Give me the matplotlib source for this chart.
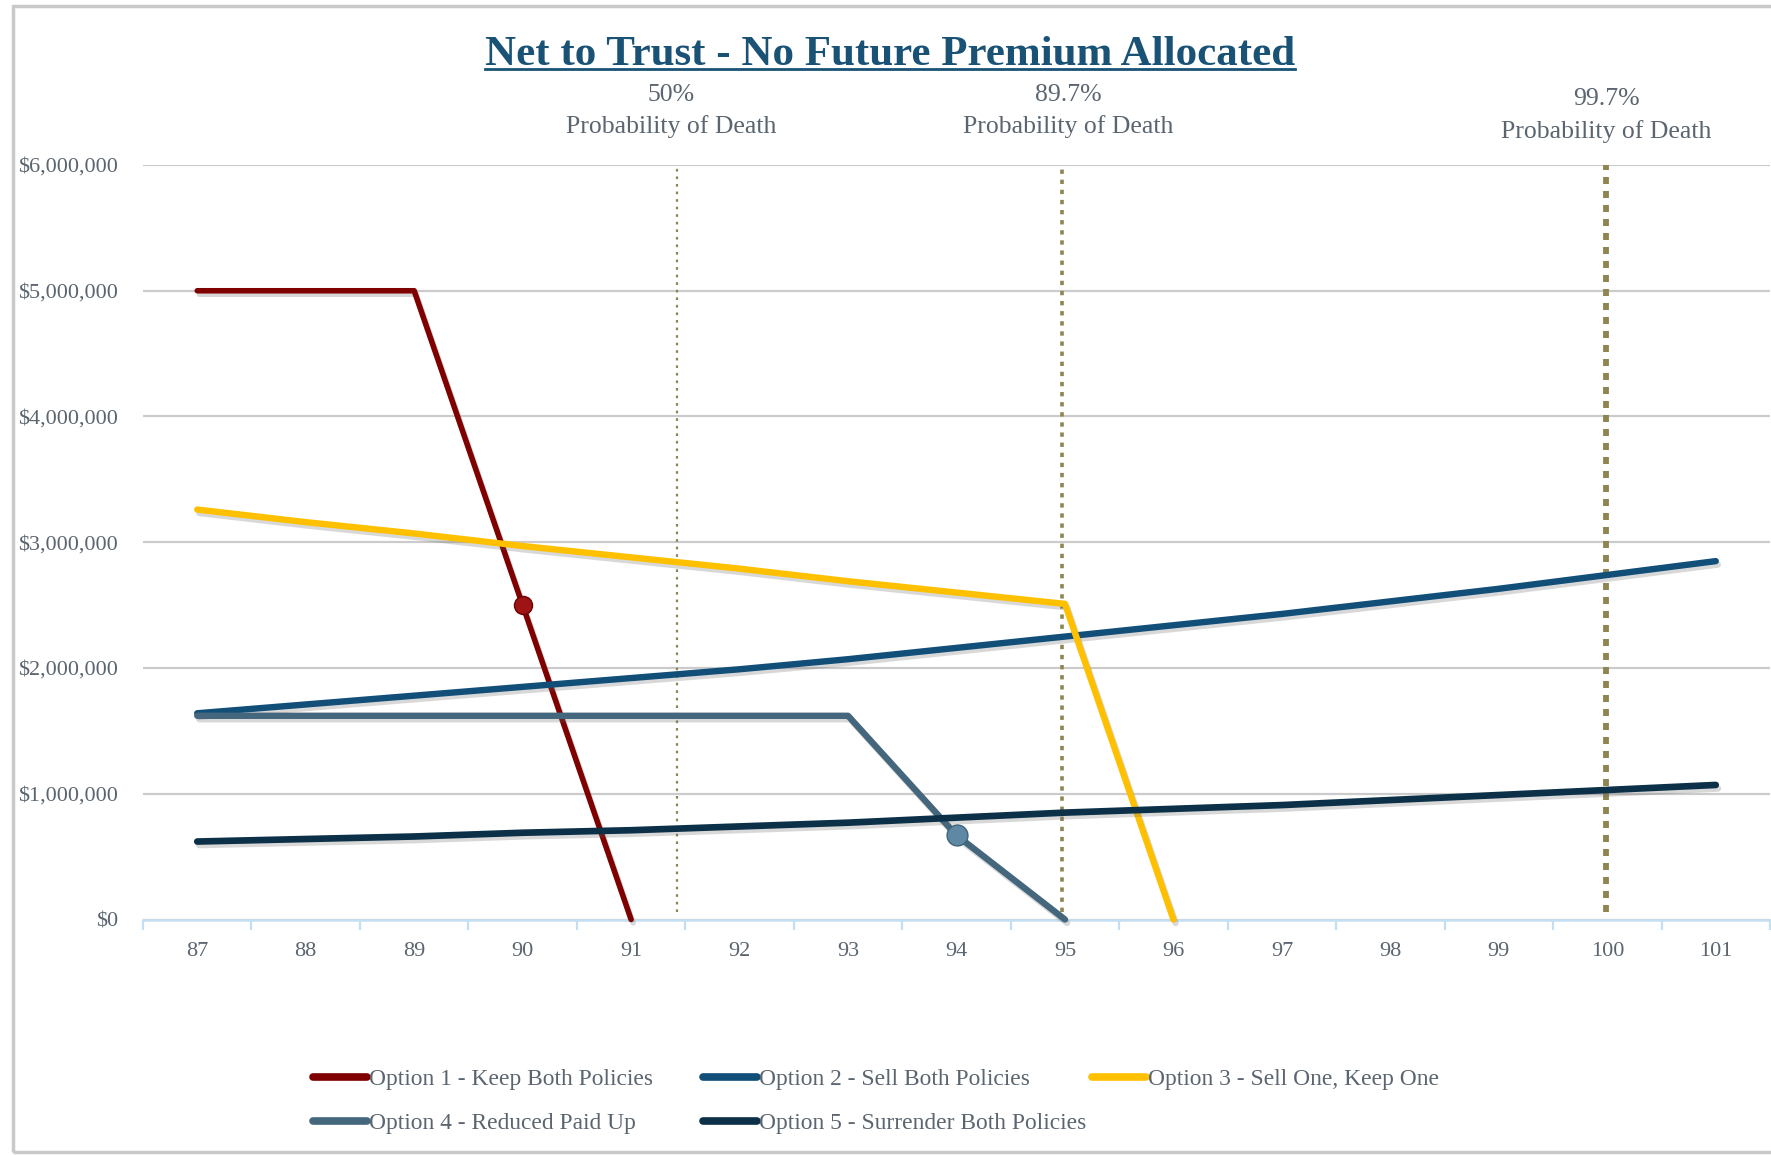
import numpy as np
import matplotlib
matplotlib.use("Agg")
import matplotlib.pyplot as plt
import matplotlib.patheffects as pe
from matplotlib.lines import Line2D
from matplotlib.patches import Rectangle
from matplotlib.ticker import FuncFormatter, FixedLocator

nan = np.nan
ages = [87, 88, 89, 90, 91, 92, 93, 94, 95, 96, 97, 98, 99, 100, 101]
opt1 = [5.00, 5.00, 5.00, 2.50, 0.00, nan, nan, nan, nan, nan, nan, nan, nan, nan, nan]
opt2 = [1.64, 1.71, 1.78, 1.85, 1.92, 1.99, 2.07, 2.16, 2.25, 2.34, 2.43, 2.53, 2.63, 2.74, 2.85]
opt3 = [3.26, 3.16, 3.07, 2.97, 2.88, 2.79, 2.69, 2.60, 2.51, 0.00, nan, nan, nan, nan, nan]
opt4 = [1.62, 1.62, 1.62, 1.62, 1.62, 1.62, 1.62, 0.67, 0.00, nan, nan, nan, nan, nan, nan]
opt5 = [0.62, 0.64, 0.66, 0.69, 0.71, 0.74, 0.77, 0.81, 0.85, 0.88, 0.91, 0.95, 0.99, 1.03, 1.07]
labels = ["Option 1 - Keep Both Policies", "Option 2 - Sell Both Policies",
          "Option 3 - Sell One, Keep One", "Option 4 - Reduced Paid Up",
          "Option 5 - Surrender Both Policies"]
colors = ["#7F0000", "#114E78", "#FFC000", "#44677E", "#0B3048"]
prob_x = [91.42, 94.97, 99.99]
prob_labels = ["50%", "89.7%", "99.7%"]
title = "Net to Trust - No Future Premium Allocated"

plt.rcParams['font.family'] = ['Liberation Serif', 'DejaVu Serif']
TXT = "#5A6570"

fig = plt.figure(figsize=(17.71, 11.55), dpi=100)
W, H = 1771, 1155
# outer chart frame
fig.patches.append(Rectangle((13 / W, 3 / H), 1.2, (1152 - 6) / H, transform=fig.transFigure,
                             facecolor="none", edgecolor="#C9C9C9", linewidth=2.5, zorder=-1))

ax = fig.add_axes([143 / W, 1 - 919.5 / H, (1770 - 143) / W, (919.5 - 165) / H])
ax.set_facecolor("none")
ax.set_xlim(86.5, 101.5)
ax.set_ylim(0, 6e6)

for s in ["top", "right", "left"]:
    ax.spines[s].set_visible(False)
ax.spines["bottom"].set_color("#C5DFF2")
ax.spines["bottom"].set_linewidth(1.8)

ax.set_yticks(np.arange(0, 6.01e6, 1e6))
ax.yaxis.set_major_formatter(FuncFormatter(lambda v, p: "${:,.0f}".format(v)))
ax.tick_params(axis="y", length=0, pad=18, labelsize=16, labelcolor=TXT)
ax.grid(axis="y", color="#CBCBCB", linewidth=1.6, zorder=1)
ax.set_axisbelow(True)

ax.set_xticks(ages)
ax.set_xticklabels([str(a) for a in ages])
ax.xaxis.set_minor_locator(FixedLocator(np.arange(86.5, 101.6, 1.0)))
ax.tick_params(axis="x", which="major", length=0, pad=16, labelsize=16, labelcolor=TXT)
ax.tick_params(axis="x", which="minor", length=7, width=1.6, color="#C5DFF2", direction="out")

# probability of death lines
lstyles = [dict(lw=1.6, ls=(0, (1.2, 2.2))), dict(lw=2.6, ls=(0, (1.2, 1.6))), dict(lw=4.2, ls=(0, (1.2, 1.2)))]
for xv, st in zip(prob_x, lstyles):
    ax.vlines(xv, 0.06e6, 6e6, colors="#8E8553", linewidth=st["lw"], linestyles=[st["ls"]], zorder=2)

text_dx = [-0.05, 0.06, 0.0]
ytxt = [1.0715, 1.0715, 1.0655]
for xv, dx, lab, yy in zip(prob_x, text_dx, prob_labels, ytxt):
    ax.text(xv + dx, yy, lab + "\nProbability of Death", transform=ax.get_xaxis_transform(),
            ha="center", va="center", multialignment="center", fontsize=18.5, color=TXT,
            linespacing=1.55)

series = [opt1, opt2, opt3, opt4, opt5]
widths = [4.0, 4.6, 4.6, 4.6, 4.8]
shadow = [pe.SimpleLineShadow(offset=(1.5, -2.5), shadow_color="#666666", alpha=0.25), pe.Normal()]
handles = []
for vals, c, lw, lab in zip(series, colors, widths, labels):
    yv = np.array(vals) * 1e6
    ln, = ax.plot(ages, yv, color=c, linewidth=lw, solid_capstyle="round",
                  solid_joinstyle="round", label=lab, zorder=4, path_effects=shadow, clip_on=False)
    handles.append(ln)

# markers
ax.plot([ages[3]], [opt1[3] * 1e6], marker="o", markersize=13, color="#9E1414",
        markeredgecolor="#6E0000", markeredgewidth=1, zorder=6, linestyle="none")
ax.plot([ages[7]], [opt4[7] * 1e6], marker="o", markersize=15, color="#5E88A3",
        markeredgecolor="#3F6379", markeredgewidth=1, zorder=6, linestyle="none")

# legend: three columns with equal spacing, row-major order
col_x = [313, 703, 1092]
cols = [[0, 3], [1, 4], [2]]
for cx, idxs in zip(col_x, cols):
    hs = [Line2D([0], [0], color=colors[i], linewidth=5.5, solid_capstyle="round") for i in idxs]
    lg = fig.legend(hs, [labels[i] for i in idxs], loc="upper left",
                    bbox_to_anchor=(cx / W, 1 - 1069 / H), frameon=False, fontsize=16.9,
                    handlelength=2.3, handletextpad=0.1, labelspacing=0.95, borderpad=0,
                    borderaxespad=0)
    for t in lg.get_texts():
        t.set_color(TXT)

# title with underline
tt = fig.text(890 / W, 1 - 55 / H, title, ha="center", va="center", fontsize=31,
              fontweight="bold", color="#1A5276")
fig.canvas.draw()
bb = tt.get_window_extent()
uy = 1 - 69 / H
fig.add_artist(Line2D([bb.x0 / W, bb.x1 / W], [uy, uy], transform=fig.transFigure,
                      color="#1A5276", linewidth=2))

fig.savefig("out.png", dpi=100)
